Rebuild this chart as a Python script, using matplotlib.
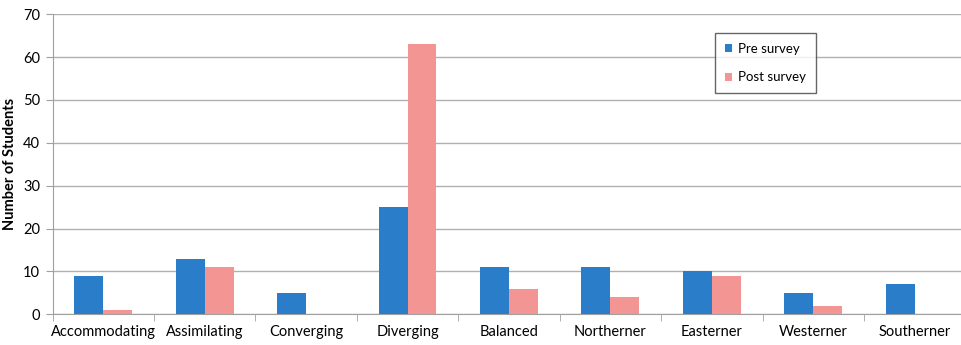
import numpy as np
import matplotlib.pyplot as plt

categories = ['Accommodating', 'Assimilating', 'Converging', 'Diverging', 'Balanced',
              'Northerner', 'Easterner', 'Westerner', 'Southerner']
pre_survey = [9, 13, 5, 25, 11, 11, 10, 5, 7]
post_survey = [1, 11, 0, 63, 6, 4, 9, 2, 0]

plt.rcParams['font.family'] = ['Lato', 'DejaVu Sans']

fig = plt.figure(figsize=(9.61, 3.45), dpi=100)
# plot area runs slightly past the right edge of the figure
ax = fig.add_axes([0.0548, 0.089, 0.9497, 0.870])

x = np.arange(len(categories))
w = 0.285
ax.bar(x - w/2, pre_survey, w, color='#2a7dc8', label='Pre survey', zorder=3)
ax.bar(x + w/2, post_survey, w, color='#f29593', label='Post survey', zorder=3)

ax.set_xlim(-0.5, len(categories) - 0.5)
ax.set_ylim(0, 70)
ax.set_yticks(range(0, 71, 10))
ax.yaxis.grid(True, color='#b0b0b0', linewidth=1)
ax.set_axisbelow(True)

ax.set_xticks(x)
ax.set_xticklabels(categories, fontsize=10.5)
ax.set_xticks(np.arange(-0.5, len(categories), 1), minor=True)
ax.tick_params(axis='x', which='major', length=0, pad=8)
ax.tick_params(axis='x', which='minor', length=5, color='#a0a0a0')
ax.tick_params(axis='y', length=5, color='#a0a0a0', labelsize=10.5, pad=4)

for s in ['top', 'right']:
    ax.spines[s].set_visible(False)
for s in ['left', 'bottom']:
    ax.spines[s].set_color('#a0a0a0')

ax.set_ylabel('Number of Students', fontsize=10.5, fontweight='bold', labelpad=4)

leg = ax.legend(loc='upper left', bbox_to_anchor=(0.726, 0.937), fontsize=9.5,
                frameon=True, fancybox=False, edgecolor='#404040',
                handlelength=0.55, handleheight=0.55, handletextpad=0.4,
                labelspacing=1.25, borderpad=0.75, borderaxespad=0)
leg.get_frame().set_linewidth(1)

fig.savefig('out.png', dpi=100)
